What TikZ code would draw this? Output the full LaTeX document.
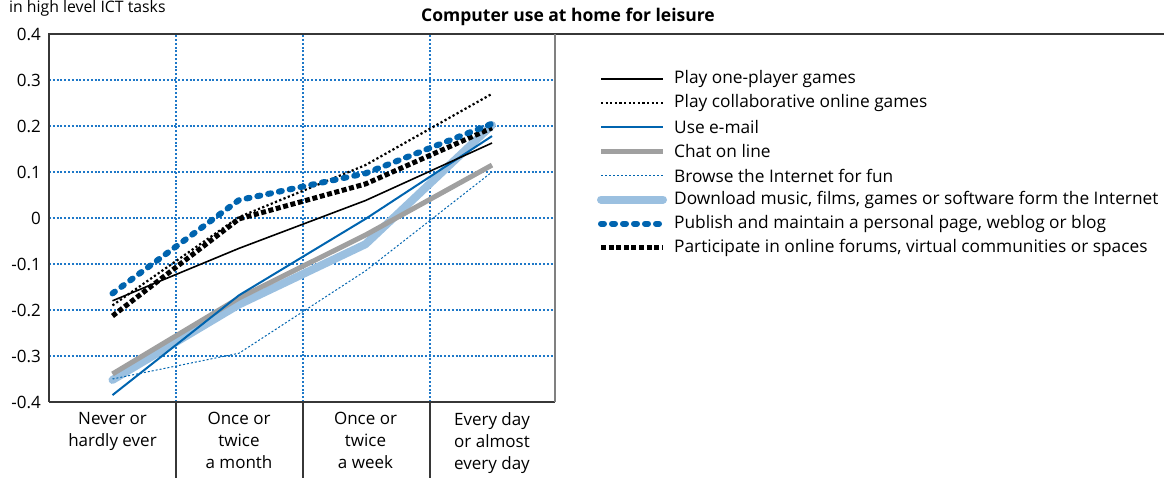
\documentclass[tikz,border=0pt]{standalone}
\usepackage{fontspec}
\setmainfont{Open Sans}
\usetikzlibrary{positioning}

\definecolor{ictblue}{RGB}{0,100,175}
\definecolor{gridblue}{RGB}{30,120,200}
\definecolor{dlblue}{RGB}{155,192,224}
\definecolor{chatgrey}{RGB}{160,160,160}
\definecolor{framegrey}{RGB}{55,55,55}

\tikzset{
	oneplayer/.style={black, line width=1.6pt, line join=round},
	collab/.style={black, line width=2.2pt, dash pattern=on 2.2pt off 2.4pt},
	email/.style={ictblue, line width=2pt, line join=round},
	chatline/.style={chatgrey, line width=5pt, line join=round},
	browse/.style={ictblue, line width=1pt, dash pattern=on 2pt off 2pt},
	download/.style={dlblue, line width=8pt, line cap=round, line join=round},
	publish/.style={ictblue, line width=6pt, line cap=round, dash pattern=on 3pt off 8pt},
	forums/.style={black, line width=5pt, dash pattern=on 5pt off 2.6pt},
	gridline/.style={gridblue, line width=1.1pt, dash pattern=on 2pt off 1.8pt},
	ticklabel/.style={anchor=east, inner sep=0pt, font=\fontsize{17}{17}\selectfont},
	catlabel/.style={anchor=north, align=center, inner sep=0pt, font=\fontsize{17}{22}\selectfont},
	legtext/.style={anchor=west, inner sep=0pt, font=\fontsize{17.3}{17.3}\selectfont}
}

\begin{document}
\begin{tikzpicture}[x=1pt,y=1pt]
	\useasboundingbox (0,0) rectangle (1164,478);

	% grid
	\foreach \v in {-0.3,-0.2,...,0.31}
		\draw[gridline] (49,{260+460*\v}) -- (555,{260+460*\v});
	\foreach \x in {176,303,430}
		\draw[gridline] (\x,76) -- (\x,444);

	% frame and category separators
	\draw[framegrey, line width=2pt] (49,76) -- (49,444) -- (1164,444);
	\draw[framegrey, line width=1.5pt] (49,76) -- (555,76);
	\draw[gray, line width=2pt] (555,76) -- (555,444);
	\foreach \x in {176,303,430}
		\draw[framegrey, line width=1.2pt] (\x,76) -- (\x,0);

	% y ticks
	\foreach \v/\t in {0.4/0.4,0.3/0.3,0.2/0.2,0.1/0.1,0/0,-0.1/-0.1,-0.2/-0.2,-0.3/-0.3,-0.4/-0.4}
		\node[ticklabel] (y\t) at (41,{260+460*\v}) {\t};

	% category labels
	\node[catlabel] (never) at (112.5,66) {Never or\\hardly ever};
	\node[catlabel] (month) at (239,66) {Once or\\twice\\a month};
	\node[catlabel] (week) at (365.5,66) {Once or\\twice\\a week};
	\node[catlabel] (daily) at (492,66) {Every day\\or almost\\every day};

	\node[anchor=base west, inner sep=0pt, font=\fontsize{15.8}{15.8}\selectfont] (unit) at (9,465) {in high level ICT tasks};
	\node[inner sep=0pt, font=\bfseries\fontsize{17.5}{17.5}\selectfont] (title) at (568,461) {Computer use at home for leisure};

	% series
	\begin{scope}[shift={(112.5,260)}, x=126.5pt, y=460pt]
		\draw[download] plot coordinates {(0,-0.352) (1,-0.188) (2,-0.057) (3,0.202)};
		\draw[chatline] plot coordinates {(0,-0.339) (1,-0.174) (2,-0.037) (3,0.115)};
		\draw[browse] plot coordinates {(0,-0.350) (1,-0.294) (2,-0.115) (3,0.100)};
		\draw[email] plot coordinates {(0,-0.385) (1,-0.168) (2,-0.002) (3,0.178)};
		\draw[oneplayer] plot coordinates {(0,-0.180) (1,-0.066) (2,0.038) (3,0.163)};
		\draw[collab] plot coordinates {(0,-0.190) (1,0.002) (2,0.115) (3,0.270)};
		\draw[forums] plot coordinates {(0,-0.213) (1,-0.002) (2,0.074) (3,0.196)};
		\draw[publish] plot coordinates {(0,-0.164) (1,0.039) (2,0.097) (3,0.205)};
	\end{scope}

	% legend
	\foreach \s/\t [count=\i] in {
		oneplayer/Play one-player games,
		collab/Play collaborative online games,
		email/Use e-mail,
		chatline/Chat on line,
		browse/Browse the Internet for fun,
		download/{Download music, films, games or software form the Internet},
		publish/{Publish and maintain a personal page, weblog or blog},
		forums/{Participate in online forums, virtual communities or spaces}}
	{
		\coordinate (ls\i) at (601,{423-24.1*\i});
		\coordinate (le\i) at (663,{423-24.1*\i});
		\draw[\s] (ls\i) -- (le\i);
		\node[legtext, right=11pt of le\i] (lt\i) {\t};
	}
\end{tikzpicture}
\end{document}
